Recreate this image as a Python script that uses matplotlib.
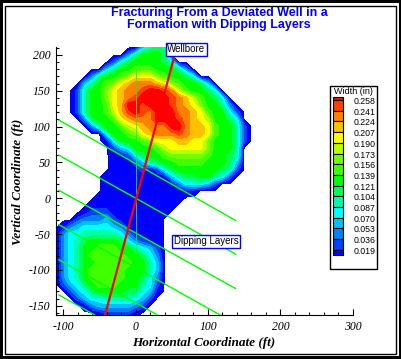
"""Deviated well frac width contour, redrawn with matplotlib (Agg)."""

import matplotlib

matplotlib.use("Agg")

import matplotlib.pyplot as plt  # noqa: E402
import numpy as np  # noqa: E402
from matplotlib.patches import Rectangle  # noqa: E402
from matplotlib.ticker import MultipleLocator  # noqa: E402

W, H = 402, 359

# grid of fracture width at 10 ft spacing
x_ft = np.arange(-110, 161, 10)
y_ft = np.arange(220, -171, -10)
width_map = [
    "............................",
    "............4676............",
    "..........368887............",
    "........257888875...........",
    ".......468899988863.........",
    ".....36889accca98875........",
    "....4689acdeeedca98874......",
    "...2688acdeefggfeb98875.....",
    "...2688acdefggggfedb9875....",
    "...26889cdggfgggfedca8863...",
    "...26889bdfgfegggeedc98852..",
    "....37889cdeeegggfedcb8875..",
    ".....36889bcdeeeggeddc98862.",
    ".......5889acdeeefeddc98862.",
    ".......158889acccddcca88862.",
    "........2458889bccccca8886..",
    "........11257889aaaaa98876..",
    "........111246788999988874..",
    "........111121257888888762..",
    ".......111111111467788652...",
    ".......1111111111355542.....",
    ".......1111111111111........",
    "......111111111111..........",
    ".....111111111111...........",
    "....122211111111............",
    "...233342111111.............",
    ".13455554311111.............",
    ".35566666531111.............",
    ".35678888753211.............",
    ".35688999886542.............",
    ".35689999988753.............",
    ".35688999998864.............",
    ".35689999988864.............",
    ".35689999988753.............",
    ".24578999888652.............",
    "..2457888877541.............",
    "...24556666542..............",
    "....134444432...............",
    "......122221................",
    "............................",
]
code_width = {
    ".": 0.0, "1": 0.010, "2": 0.028, "3": 0.045, "4": 0.062, "5": 0.078,
    "6": 0.095, "7": 0.112, "8": 0.130, "9": 0.147, "a": 0.164, "b": 0.181,
    "c": 0.198, "d": 0.215, "e": 0.232, "f": 0.249, "g": 0.268,
}

band_edges = [0.002, 0.019, 0.036, 0.053, 0.070, 0.087, 0.104, 0.121, 0.139,
              0.156, 0.173, 0.190, 0.207, 0.224, 0.241, 0.258, 0.300]
band_colors = ["#0000ff", "#0040ff", "#0080ff", "#00c0ff", "#00ffff", "#00ffaa",
               "#00ff55", "#00ff00", "#40ff00", "#70ff00", "#b8ff00", "#ffff00",
               "#ffc000", "#ff8000", "#ff4000", "#ff0000"]
legend_labels = ["0.258", "0.241", "0.224", "0.207", "0.190", "0.173", "0.156",
                 "0.139", "0.121", "0.104", "0.087", "0.070", "0.053", "0.036",
                 "0.019"]

well_x = [-43, 57]
well_y = [-166, 211]
layer_x = [-106, 138]
layer_y_left = [109, 60, 11, -37, -86, -135]
layer_y_right = [-31, -78, -126, -175, -224, -273]
seam_x = [0, 0]
seam_y = [-130, 180]

plt.rcParams["font.family"] = ["Liberation Serif", "DejaVu Serif"]
plt.rcParams["font.style"] = "italic"
plt.rcParams["axes.unicode_minus"] = False

Z = np.array([[code_width[c] for c in row] for row in width_map])

fig = plt.figure(figsize=(W / 100, H / 100), dpi=100, facecolor="black")
fig.patches.append(Rectangle((3 / W, 3 / H), 1 - 6 / W, 1 - 6 / H,
                             transform=fig.transFigure, facecolor="white",
                             edgecolor="none", zorder=-2))
fig.patches.append(Rectangle((5.5 / W, 5.5 / H), 1 - 11 / W, 1 - 11 / H,
                             transform=fig.transFigure, facecolor="none",
                             edgecolor="black", linewidth=1, zorder=-1))

ax = fig.add_axes([56 / W, 1 - 315 / H, (352.7 - 56) / W, (315 - 47) / H])
ax.patch.set_alpha(0)
ax.contourf(x_ft, y_ft, Z, levels=band_edges, colors=band_colors)
for yl, yr in zip(layer_y_left, layer_y_right):
    ax.plot(layer_x, [yl, yr], color="#00ff00", linewidth=1.0, zorder=3)
ax.plot(seam_x, seam_y, color="#00ff00", linewidth=0.6, zorder=3)
ax.plot(well_x, well_y, color="#ff0000", linewidth=1.6, zorder=4)

ax.set_xlim(-110, 300)
ax.set_ylim(-163, 211)
ax.xaxis.set_major_locator(MultipleLocator(100))
ax.xaxis.set_minor_locator(MultipleLocator(20))
ax.yaxis.set_major_locator(MultipleLocator(50))
ax.yaxis.set_minor_locator(MultipleLocator(10))
ax.tick_params(which="both", direction="in", width=0.8, labelsize=8.5, pad=4)
ax.tick_params(which="major", length=4)
ax.tick_params(which="minor", length=2.2)
for side in ("top", "right"):
    ax.spines[side].set_visible(False)

box = dict(boxstyle="square,pad=0.15", facecolor="white", edgecolor="#0000ff",
           linewidth=1)
ax.text(70, 207.7, "Wellbore", ha="center", va="center", fontsize=7,
        family="Liberation Sans", style="normal", bbox=box, clip_on=False, zorder=6)
ax.text(97.6, -60.3, "Dipping Layers", ha="center", va="center", fontsize=7,
        family="Liberation Sans", style="normal", bbox=box, zorder=6)

fig.text(219 / W, 1 - 19 / H,
         "Fracturing From a Deviated Well in a\nFormation with Dipping Layers",
         ha="center", va="center", color="#0000ff", fontsize=9, weight="bold",
         family="Liberation Sans", style="normal", linespacing=1.05)
fig.text(204 / W, 1 - 343 / H, "Horizontal Coordinate (ft)", ha="center",
         va="center", fontsize=9.5, weight="bold", style="italic")
fig.text(18 / W, 1 - 182 / H, "Vertical Coordinate (ft)", ha="center",
         va="center", rotation=90, fontsize=9.5, weight="bold", style="italic")

# legend box, drawn in pixel units of its own little axes
lg = fig.add_axes([330 / W, 1 - 269 / H, 47 / W, 183 / H])
lg.set_xlim(0, 47)
lg.set_ylim(183, 0)
lg.axis("off")
lg.add_patch(Rectangle((0, 0), 47, 183, facecolor="white", edgecolor="black",
                       linewidth=1, clip_on=False))
lg.text(23.5, 5.5, "Width (in)", ha="center", va="center", fontsize=6.5,
        family="Liberation Sans", style="normal")
step = 10.7
bounds = [14 + i * step for i in range(len(legend_labels))]
tops = [11] + bounds
bottoms = bounds + [169]
for top, bot, col in zip(tops, bottoms, band_colors[::-1]):
    lg.add_patch(Rectangle((2.7, top), 10, bot - top, facecolor=col,
                           edgecolor="black", linewidth=0.8))
for b, lab in zip(bounds, legend_labels):
    lg.text(23.5, b + 1.5, lab, ha="left", va="center", fontsize=6.3,
            family="Liberation Sans", style="normal")

fig.savefig("out.png", dpi=100, facecolor=fig.get_facecolor())
plt.close(fig)
